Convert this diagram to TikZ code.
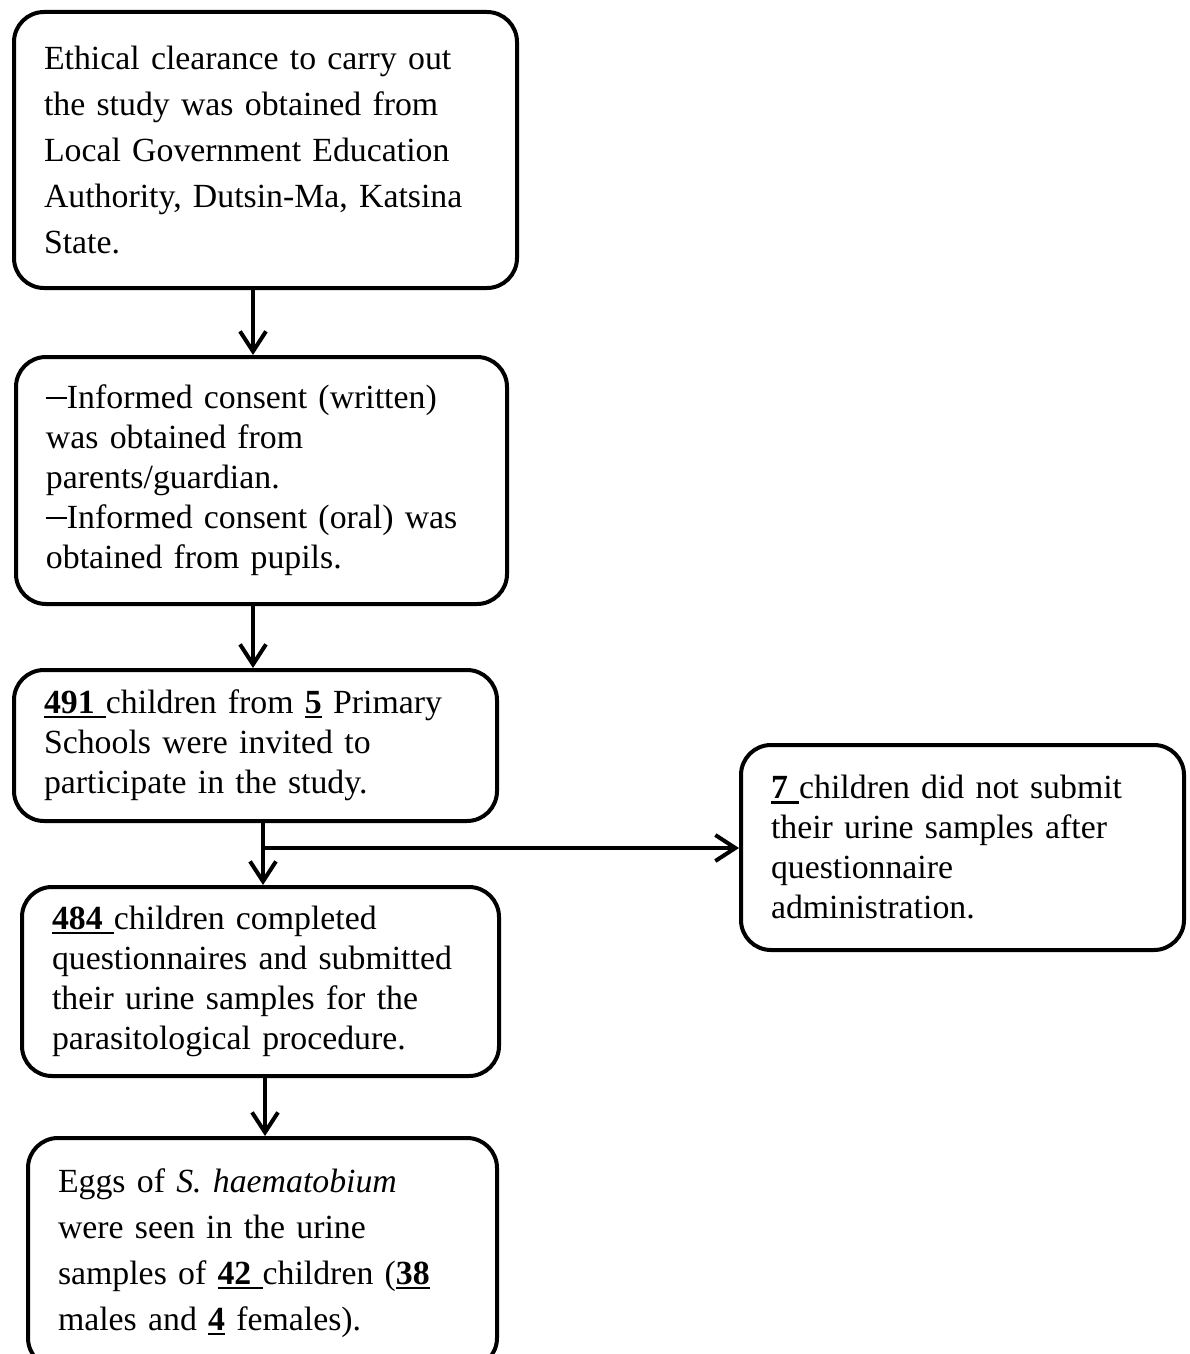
\documentclass[tikz,border=0pt]{standalone}
\usepackage{fontspec}
\setmainfont{Liberation Serif}
\usetikzlibrary{arrows.meta}
\newcommand{\unum}[1]{\textbf{\setbox0\hbox{#1}\rlap{\rule[-0.14em]{\wd0}{0.075em}}\box0}}
\newcommand{\consdash}{\rule[0.28em]{0.62em}{0.07em}}

\begin{document}
\begin{tikzpicture}[x=0.5pt,y=-0.5pt,line width=2pt]
            \tikzstyle{stage}=[draw=black,fill=white,rounded corners=15pt,inner xsep=15pt,inner ysep=0pt,align=left,font=\fontsize{16.9}{20}\selectfont]
            \tikzstyle{flow}=[-{Straight Barb[length=10pt,width=13pt]},line width=2pt]
                    \useasboundingbox (0,0) rectangle (1189,1354);
                    \node[stage,text width=221.5pt,minimum height=138pt,font=\fontsize{16.9}{23}\selectfont] (S-1) at (265.5,150){Ethical clearance to carry out\\the study was obtained from\\Local Government Education\\Authority, Dutsin-Ma, Katsina\\State.};
                    \node[stage,text width=215.5pt,minimum height=123.5pt] (S-2) at (261.5,480.5){\consdash Informed consent (written)\\was obtained from\\parents/guardian.\\\consdash Informed consent (oral) was\\obtained from pupils.};

                    \node[stage,text width=211.5pt,minimum height=75.5pt] (S-3) at (255.5,745.5){\unum{491 }children from \unum{5} Primary\\Schools were invited to\\participate in the study.};
                    \node[stage,text width=208.5pt,minimum height=94.5pt] (S-4) at (260.5,981.5){\unum{484 }children completed\\questionnaires and submitted\\their urine samples for the\\parasitological procedure.};
                    \node[stage,text width=204.5pt,minimum height=115pt,font=\fontsize{16.9}{23}\selectfont] (S-5) at (262.5,1253){Eggs of \textit{S. haematobium}\\were seen in the urine\\samples of \unum{42 }children (\unum{38}\\males and \unum{4} females).};

                    \node[stage,text width=191.5pt,minimum height=102.5pt] (S-6) at (962.5,847.5){\unum{7 }children did not submit\\their urine samples after\\questionnaire\\administration.};

                    \coordinate (split) at (263,848);
                \foreach \from/\to/\x in {1/2/253, 2/3/253, 3/4/263, 4/5/265}
                    \draw[flow] (S-\from.south -| \x,0) -- (S-\to.north -| \x,0);
                \draw[flow] (split) -- (S-6.west |- split);
        \end{tikzpicture}
\end{document}
